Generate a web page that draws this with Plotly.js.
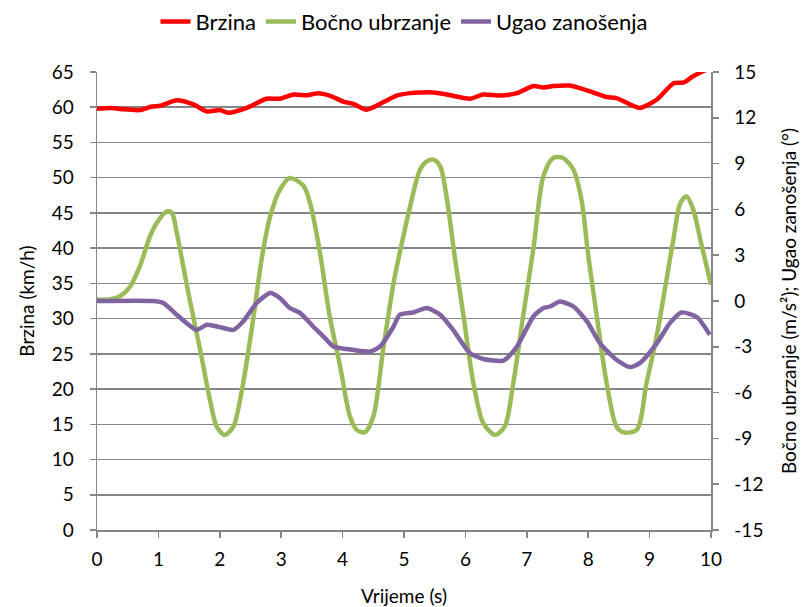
<!DOCTYPE html>
<html><head><meta charset="utf-8">
<script src="https://cdn.plot.ly/plotly-3.0.1.min.js"></script>
<style>html,body{margin:0;padding:0;background:#fff}#c{width:803px;height:607px}</style>
</head><body><div id="c"></div>
<script>
const brzinaX = [0,0.24,0.43,0.70,0.89,1.03,1.30,1.57,1.79,2.0,2.14,2.44,2.76,2.98,3.20,3.42,3.60,3.79,4.01,4.17,4.39,4.66,4.88,5.10,5.26,5.48,5.70,6.07,6.29,6.56,6.84,7.11,7.27,7.43,7.70,8.03,8.30,8.46,8.84,9.12,9.39,9.55,9.71,9.87,10.0];
const brzinaY = [59.8,59.9,59.7,59.6,60.1,60.2,61.0,60.4,59.4,59.6,59.2,59.9,61.2,61.2,61.8,61.7,62.0,61.65,60.8,60.5,59.66,60.7,61.65,62.0,62.1,62.1,61.8,61.2,61.8,61.65,62.0,63.0,62.8,63.0,63.07,62.26,61.46,61.3,59.9,61.1,63.4,63.5,64.4,65.1,65.6];

const bocnoX = [0,0.2,0.37,0.54,0.70,0.86,0.97,1.14,1.22,1.30,1.38,1.51,1.68,1.84,1.95,2.08,2.22,2.38,2.55,2.68,2.82,2.98,3.14,3.36,3.47,3.63,3.79,3.96,4.12,4.23,4.36,4.50,4.66,4.83,4.93,5.10,5.26,5.37,5.48,5.59,5.70,5.83,5.97,6.13,6.29,6.48,6.64,6.78,6.94,7.11,7.27,7.43,7.59,7.76,7.89,8.0,8.14,8.30,8.46,8.57,8.79,8.95,9.12,9.28,9.39,9.5,9.60,9.71,9.85,10.0];
const bocnoY = [0.1,0.1,0.3,0.95,2.3,4.2,5.1,5.87,5.77,4.46,2.8,0.08,-3.2,-6.48,-8.23,-8.77,-8.23,-5.38,-1.0,2.7,5.54,7.3,8.06,7.56,6.42,3.2,-1.0,-4.28,-7.57,-8.44,-8.6,-7.57,-3.2,1.18,3.14,6.2,8.6,9.15,9.26,8.82,6.64,2.8,-1.0,-5.38,-8.0,-8.77,-8.23,-5.38,-1.0,3.5,8.17,9.37,9.37,8.6,6.64,3.0,-1.0,-5.38,-8.23,-8.6,-8.44,-5.38,-2.2,1.5,4.1,6.4,6.86,6.0,3.6,1.07];

const ugaoX = [0,0.92,1.08,1.30,1.62,1.79,2.0,2.22,2.38,2.60,2.82,2.98,3.14,3.31,3.52,3.69,3.85,4.17,4.45,4.61,4.83,4.93,5.15,5.37,5.59,5.80,6.07,6.29,6.62,6.84,7.11,7.27,7.38,7.54,7.76,7.98,8.19,8.46,8.68,8.84,9.12,9.33,9.52,9.77,9.98];
const ugaoY = [0,0,-0.13,-0.9,-1.89,-1.56,-1.71,-1.89,-1.34,-0.13,0.52,0.19,-0.46,-0.79,-1.67,-2.33,-2.98,-3.2,-3.31,-2.98,-1.67,-0.9,-0.75,-0.46,-0.9,-1.89,-3.41,-3.8,-3.9,-2.98,-1.0,-0.46,-0.36,-0.03,-0.36,-1.34,-2.76,-3.85,-4.33,-4.07,-2.76,-1.45,-0.75,-1.05,-2.21];

const leftTicks = [0,5,10,15,20,25,30,35,40,45,50,55,60,65];
const rightTicks = [-15,-12,-9,-6,-3,0,3,6,9,12,15];
const xTicks = [0,1,2,3,4,5,6,7,8,9,10];

const FONT = 'Lato, "Liberation Sans", sans-serif';
const lw = 4.5;
const traces = [
  {x: brzinaX, y: brzinaY, name: 'Brzina', type: 'scatter', mode: 'lines', yaxis: 'y', line: {color: '#FF0000', width: lw, shape: 'spline', smoothing: 0.6}},
  {x: bocnoX, y: bocnoY, name: 'Bočno ubrzanje', type: 'scatter', mode: 'lines', yaxis: 'y2', line: {color: '#9BBB59', width: lw, shape: 'spline', smoothing: 0.8}},
  {x: ugaoX, y: ugaoY, name: 'Ugao zanošenja', type: 'scatter', mode: 'lines', yaxis: 'y2', line: {color: '#8064A2', width: lw, shape: 'spline', smoothing: 0.6}}
];
const axisCommon = {showline: true, linecolor: '#868686', linewidth: 1.5, ticks: 'outside', ticklen: 6, tickcolor: '#868686', tickwidth: 1.5, zeroline: false, tickfont: {size: 19}, automargin: false};
const layout = {
  width: 803, height: 607,
  margin: {l: 97, r: 92, t: 72, b: 77, autoexpand: false},
  paper_bgcolor: '#fff', plot_bgcolor: '#fff',
  font: {family: FONT, size: 19, color: '#000'},
  showlegend: true,
  legend: {orientation: 'h', x: 0.5, xanchor: 'center', y: 1.11, yanchor: 'middle', font: {size: 22}, traceorder: 'normal'},
  xaxis: Object.assign({}, axisCommon, {range: [0, 10], tickvals: xTicks, ticktext: xTicks.map(String), showgrid: false,
    ticklabelstandoff: 6,
    title: {text: 'Vrijeme (s)', font: {size: 19}, standoff: 22}}),
  yaxis: Object.assign({}, axisCommon, {range: [0, 65], tickvals: leftTicks, ticktext: leftTicks.map(String), showgrid: true, gridcolor: '#868686', gridwidth: 1.5,
    ticklabelstandoff: 12,
    title: {text: 'Brzina (km/h)', font: {size: 19}, standoff: 12}}),
  yaxis2: Object.assign({}, axisCommon, {range: [-15, 15], overlaying: 'y', side: 'right', tickvals: rightTicks, ticktext: rightTicks.map(String), showgrid: false,
    ticklabelstandoff: 12,
    title: {text: 'Bočno ubrzanje (m/s²); Ugao zanošenja (°)', font: {size: 19}, standoff: 20}})
};
Plotly.newPlot('c', traces, layout, {displayModeBar: false, staticPlot: true});
</script></body></html>
